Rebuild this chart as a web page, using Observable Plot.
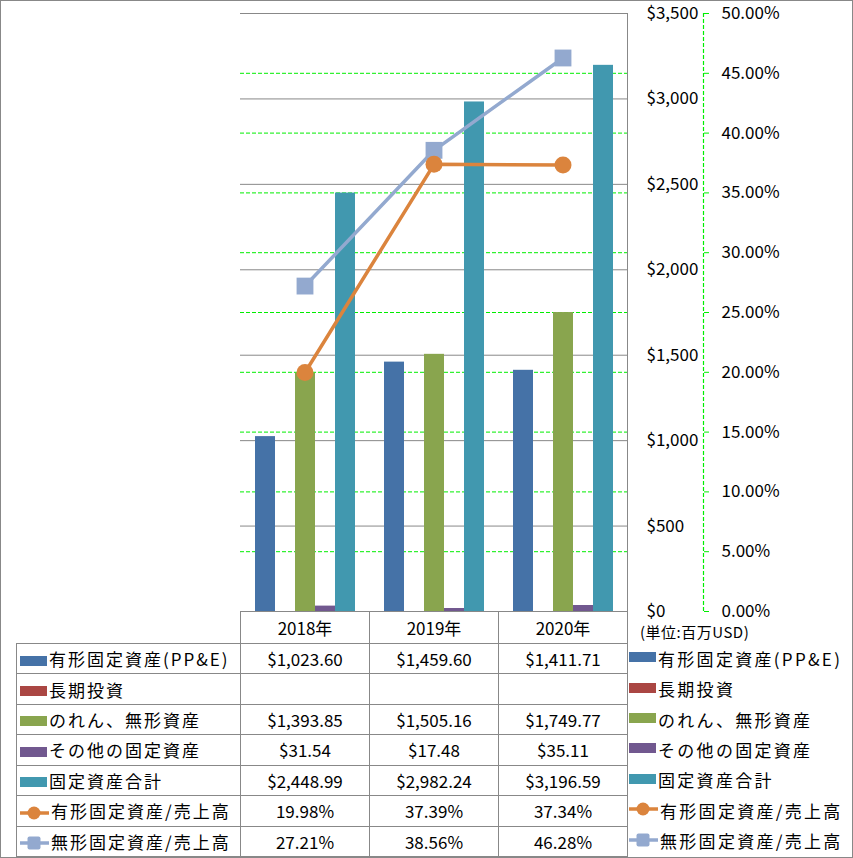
<!DOCTYPE html>
<html><head><meta charset="utf-8">
<script src="https://cdn.jsdelivr.net/npm/d3@7"></script>
<script src="https://cdn.jsdelivr.net/npm/@observablehq/plot@0.6"></script>
<style>
body{margin:0;background:#fff;}
#wrap{position:relative;width:853px;height:858px;overflow:hidden;background:#fff;font-family:'Noto Sans CJK JP','Noto Sans',sans-serif;color:#000;}
#border{position:absolute;left:0;top:0;width:853px;height:858px;box-sizing:border-box;border:1.5px solid #888;pointer-events:none;z-index:10;}
.layer{position:absolute;left:0;top:0;}
table.dt{position:absolute;left:16px;top:611px;border-collapse:collapse;table-layout:fixed;font-size:17px;}
table.dt td{border:1px solid #888;text-align:center;padding:0;white-space:nowrap;overflow:hidden;}
table.dt td.lab{text-align:left;letter-spacing:2px;padding-left:3px;}
.sw{display:inline-block;vertical-align:middle;margin-right:2px;position:relative;top:-1px;}
#unit{position:absolute;left:640px;top:621px;font-size:15px;letter-spacing:0.5px;}
.rl{position:absolute;left:629px;font-size:17px;letter-spacing:2.3px;white-space:nowrap;display:flex;align-items:center;}
</style></head>
<body><div id="wrap"><div id="border"></div></div>
<script>
// ---- data ----
const years = ["2018年", "2019年", "2020年"];
const barSeries = ["有形固定資産(PP&E)", "長期投資", "のれん、無形資産", "その他の固定資産", "固定資産合計"];
const ppe = [1023.60, 1459.60, 1411.71];
const longTermInvest = [null, null, null];
const goodwillIntangible = [1393.85, 1505.16, 1749.77];
const otherFixed = [31.54, 17.48, 35.11];
const totalFixed = [2448.99, 2982.24, 3196.59];
const lineSeries = ["有形固定資産/売上高", "無形固定資産/売上高"];
const ppeToSales = [0.1998, 0.3739, 0.3734];
const intangibleToSales = [0.2721, 0.3856, 0.4628];
const unitLabel = "(単位:百万USD)";

// ---- styles ----
const barColors = ["#4572A7", "#AA4643", "#89A54E", "#71588F", "#4198AF"];
const lineColors = ["#DB843D", "#93A9CF"];
const lineSymbols = ["circle", "square"];
const lineSymbolR = [8.5, 9.5];
const pctGridColor = "#00ee00";

const barValues = [ppe, longTermInvest, goodwillIntangible, otherFixed, totalFixed];
const lineValues = [ppeToSales, intangibleToSales];

const barData = barSeries.flatMap((s, i) => years.map((y, j) => ({year: y, series: s, value: barValues[i][j]}))).filter(d => d.value != null);
const lineData = lineSeries.flatMap((s, i) => years.map((y, j) => ({year: y, series: s, value: lineValues[i][j]})));

const wrap = document.getElementById("wrap");
const common = {
  width: 853, height: 615, marginLeft: 240, marginRight: 226, marginTop: 13, marginBottom: 4,
  style: {fontFamily: "'Noto Sans CJK JP','Noto Sans',sans-serif", fontSize: "17px", color: "#000", background: "transparent", overflow: "visible"}
};

// Layer 1: percent grid and right percent axis
const p1 = Plot.plot({
  ...common,
  x: {domain: [0, 1], axis: null},
  y: {domain: [0, 0.5], label: null},
  marks: [
    Plot.gridY({ticks: 10, stroke: pctGridColor, strokeOpacity: 1, strokeDasharray: "4,2"}),
    Plot.ruleX([1], {dx: 76, stroke: pctGridColor, strokeWidth: 1.2, strokeDasharray: "4,2"}),
    Plot.axisY({anchor: "right", ticks: 10, dx: 76, tickSize: 5, tickPadding: 13, tickFormat: ".2%", stroke: pctGridColor, label: null}),
    Plot.ruleX([1], {stroke: "#888"})
  ]
});

// Layer 2: bars, dollar grid and axis
const p2 = Plot.plot({
  ...common,
  fx: {domain: years, padding: 0, axis: null},
  x: {domain: barSeries, paddingInner: 0, paddingOuter: 0.725, axis: null},
  y: {domain: [0, 3500], label: null},
  color: {domain: barSeries, range: barColors},
  marks: [
    Plot.gridY({ticks: 7, stroke: "#888", strokeOpacity: 1}),
    Plot.barY(barData, {fx: "year", x: "series", y: "value", fill: "series"}),
    Plot.axisY({anchor: "right", ticks: 7, tickSize: 0, tickPadding: 19, tickFormat: "$,.0f", label: null})
  ]
});

// Layer 3: ratio lines
const lineMarks = [];
for (let i = lineSeries.length - 1; i >= 0; i--) {
  const d = lineData.filter(e => e.series === lineSeries[i]);
  lineMarks.push(Plot.lineY(d, {x: "year", y: "value", stroke: lineColors[i], strokeWidth: 3.5}));
  lineMarks.push(Plot.dot(d, {x: "year", y: "value", fill: lineColors[i], symbol: lineSymbols[i], r: lineSymbolR[i]}));
}
const p3 = Plot.plot({
  ...common,
  x: {type: "band", domain: years, padding: 0, axis: null},
  y: {domain: [0, 0.5], axis: null},
  marks: lineMarks
});

[p1, p2, p3].forEach(p => { p.classList.add("layer"); wrap.appendChild(p); });

// ---- data table ----
const fmtD = d3.format("$,.2f"), fmtP = d3.format(".2%");
function swatch(kind, color, sym) {
  if (kind === "bar") return `<svg class="sw" width="27" height="10"><rect x="0" y="0" width="27" height="10" fill="${color}"/></svg>`;
  const mk = sym === "circle"
    ? `<circle cx="14" cy="8" r="6.5" fill="${color}"/>`
    : `<rect x="7.5" y="1.5" width="13" height="13" rx="2" fill="${color}"/>`;
  return `<svg class="sw" width="29" height="16"><line x1="0" y1="8" x2="29" y2="8" stroke="${color}" stroke-width="3.5"/>${mk}</svg>`;
}
const rows = [];
barSeries.forEach((s, i) => rows.push({label: s, sw: swatch("bar", barColors[i]), vals: barValues[i].map(v => v == null ? "" : fmtD(v))}));
lineSeries.forEach((s, i) => rows.push({label: s, sw: swatch("line", lineColors[i], lineSymbols[i]), vals: lineValues[i].map(v => fmtP(v))}));

const rowH = (856 - 643) / rows.length;
let html = `<colgroup><col style="width:224px"><col style="width:129px"><col style="width:129px"><col style="width:129px"></colgroup>`;
html += `<tr style="height:32px"><td style="border-top:none;border-left:none"></td>${years.map(y => `<td>${y}</td>`).join("")}</tr>`;
rows.forEach(r => {
  html += `<tr style="height:${rowH}px"><td class="lab">${r.sw}${r.label}</td>${r.vals.map(v => `<td>${v}</td>`).join("")}</tr>`;
});
const tbl = document.createElement("table");
tbl.className = "dt";
tbl.innerHTML = html;
wrap.appendChild(tbl);

const unit = document.createElement("div");
unit.id = "unit"; unit.textContent = unitLabel;
wrap.appendChild(unit);

rows.forEach((r, i) => {
  const d = document.createElement("div");
  d.className = "rl";
  d.style.top = (643 + i * rowH) + "px";
  d.style.height = rowH + "px";
  d.innerHTML = r.sw + r.label;
  wrap.appendChild(d);
});
</script></body></html>
